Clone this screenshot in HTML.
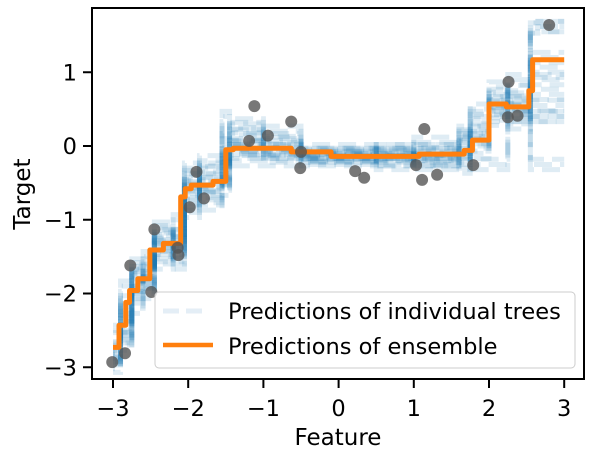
<!DOCTYPE html>
<html><head><meta charset="utf-8"><style>
body{margin:0;background:#fff}
svg text{font-family:"DejaVu Sans","Liberation Sans",sans-serif;fill:#000}
</style></head><body>
<svg id="chart" width="596" height="459" xmlns="http://www.w3.org/2000/svg">
<g id="trees"></g>
<g id="ens"></g>
<g id="pts"></g>
<rect x="92" y="8" width="492" height="371" fill="none" stroke="#000" stroke-width="2"/>
<g id="axes"></g>
<text x="338" y="445" font-size="23" text-anchor="middle">Feature</text>
<text transform="translate(30,194) rotate(-90)" font-size="23" text-anchor="middle">Target</text>
<g>
<rect x="155" y="292" width="420" height="76" rx="4" fill="#fff" fill-opacity="0.8" stroke="#ccc" stroke-width="1"/>
<line x1="163" y1="311" x2="208" y2="311" stroke="#1f77b4" stroke-opacity="0.12" stroke-width="5" stroke-dasharray="16,7"/>
<text x="228" y="319" font-size="22.5">Predictions of individual trees</text>
<line x1="163" y1="345" x2="213" y2="345" stroke="#ff7f0e" stroke-width="4.5"/>
<text x="228" y="354" font-size="22.5">Predictions of ensemble</text>
</g>
</svg>
<script>
const breaks=[-3,-2.9,-2.75,-2.6,-2.45,-2.2,-2.05,-1.85,-1.55,-1.45,-1,-0.5,0.5,1.0,1.6,1.75,2.0,2.25,2.55,2.65,3];
const tree1=[-2.9,-2.4,-1.6,-1.6,-1.15,-1.3,-0.55,-0.55,-0.3,0.0,-0.05,-0.15,-0.1,-0.1,-0.1,0.1,0.5,0.5,1.6,1.62];
const tree2=[-2.7,-2.7,-2.0,-1.7,-1.4,-1.45,-0.7,-0.45,-0.1,0.1,0.2,-0.1,-0.2,-0.2,0.0,0.2,0.6,0.4,0.4,0.4];
const tree3=[-2.8,-2.2,-1.8,-1.9,-1.3,-1.2,-0.4,-0.6,-0.6,-0.05,-0.1,-0.15,-0.15,-0.25,-0.25,0.3,0.7,0.6,0.9,0.9];
const tree4=[-2.6,-2.5,-1.9,-1.8,-1.5,-1.3,-0.8,-0.35,-0.1,0.3,0.0,-0.1,-0.1,-0.05,0.1,0.0,0.4,0.75,1.6,1.62];
const tree5=[-2.95,-2.3,-1.75,-1.7,-1.25,-1.35,-0.6,-0.7,-0.45,-0.1,-0.15,-0.2,-0.05,-0.15,0.05,-0.25,-0.25,0.5,-0.25,-0.25];
const tree6=[-2.5,-2.6,-1.65,-1.6,-1.4,-1.4,-0.5,-0.5,-0.2,0.15,-0.05,-0.1,-0.2,-0.1,-0.15,0.4,0.8,0.55,0.55,0.55];
const tree7=[-2.85,-2.1,-2.0,-1.85,-1.1,-1.2,-0.65,-0.3,0.1,0.0,0.05,-0.12,-0.12,-0.2,-0.1,0.1,0.45,0.4,1.2,1.2];
const tree8=[-2.75,-2.45,-1.9,-1.7,-1.35,-1.5,-0.45,-0.55,-0.35,-0.05,-0.1,-0.14,-0.1,-0.05,0.15,0.2,0.6,0.9,0.7,0.7];
const tree9=[-2.65,-1.9,-1.7,-1.5,-1.6,-1.0,-0.9,-0.2,0.4,0.25,0.1,-0.05,-0.25,0.05,0.2,0.5,0.35,0.3,1.0,1.0];
const tree10=[-3.0,-2.6,-2.2,-2.0,-1.2,-1.6,-0.3,-0.8,-0.5,-0.2,-0.2,-0.18,-0.05,-0.2,-0.3,-0.1,0.55,0.65,0.4,0.4];
const trees=[tree1,tree2,tree3,tree4,tree5,tree6,tree7,tree8,tree9,tree10];
const ensX=[-3,-2.92,-2.83,-2.78,-2.67,-2.51,-2.33,-2.1,-2.04,-1.96,-1.67,-1.5,-1.4,-0.63,-0.1,1.07,1.67,1.78,2.0,2.23,2.53,2.58,3];
const ensY=[-2.73,-2.43,-2.12,-1.96,-1.8,-1.41,-1.32,-0.69,-0.58,-0.53,-0.48,-0.05,-0.03,-0.08,-0.14,-0.11,-0.06,0.08,0.57,0.53,0.75,1.17,1.17];
const ptX=[-3.01,-2.84,-2.77,-2.49,-2.45,-2.13,-2.14,-1.89,-1.79,-1.98,-1.12,-1.19,-0.94,-0.63,-0.51,-0.5,0.22,0.34,1.14,1.03,1.11,1.31,1.79,2.26,2.25,2.38,2.80];
const ptY=[-2.93,-2.81,-1.62,-1.98,-1.13,-1.48,-1.38,-0.35,-0.71,-0.83,0.54,0.07,0.14,0.33,-0.30,-0.08,-0.34,-0.43,0.23,-0.26,-0.46,-0.39,-0.26,0.87,0.39,0.41,1.64];
const xTicks=[-3,-2,-1,0,1,2,3];
const yTicks=[1,0,-1,-2,-3];
const X=v=>338.6+v*75.2, Y=v=>146-v*73.75;
const NS="http://www.w3.org/2000/svg";
function mk(t,p,a){const e=document.createElementNS(NS,t);for(const k in a)e.setAttribute(k,a[k]);p.appendChild(e);return e;}
function stepPath(xs,ys){let d="M"+X(xs[0])+","+Y(ys[0]);for(let i=0;i<ys.length;i++){d+=" L"+X(xs[i])+","+Y(ys[i])+" L"+X(xs[i+1])+","+Y(ys[i]);}return d;}
const tg=document.getElementById('trees');
trees.forEach((t,i)=>{for(let r=0;r<3;r++){const p=mk('path',tg,{d:stepPath(breaks,t.map(v=>v+(r-1)*0.07)),fill:'none',stroke:'#1f77b4','stroke-opacity':0.14,'stroke-width':5,'stroke-dasharray':'18,8','stroke-dashoffset':r*8+i*4});

}});
const eg=document.getElementById('ens');
let d="M"+X(ensX[0])+","+Y(ensY[0]);
for(let i=1;i<ensX.length;i++){d+=" L"+X(ensX[i])+","+Y(ensY[i-1])+" L"+X(ensX[i])+","+Y(ensY[i]);}
const ep=mk('path',eg,{d:d,fill:'none',stroke:'#ff7f0e','stroke-width':5,'stroke-linejoin':'round'});


const pg=document.getElementById('pts');
ptX.forEach((x,i)=>{const c=mk('circle',pg,{cx:X(x),cy:Y(ptY[i]),r:6,fill:'#555','fill-opacity':0.8});

});
const ag=document.getElementById('axes');
xTicks.forEach(v=>{const l=mk('line',ag,{x1:X(v),x2:X(v),y1:379,y2:388,stroke:'#000','stroke-width':2});


const t=mk('text',ag,{x:X(v),y:416,'font-size':22.5,'text-anchor':'middle'});t.textContent=(v<0?'\u2212'+(-v):v);

});
yTicks.forEach(v=>{const l=mk('line',ag,{x1:83,x2:92,y1:Y(v),y2:Y(v),stroke:'#000','stroke-width':2});


const t=mk('text',ag,{x:77,y:Y(v)+8,'font-size':22.5,'text-anchor':'end'});t.textContent=(v<0?'\u2212'+(-v):v);

});
</script>
</body></html>
